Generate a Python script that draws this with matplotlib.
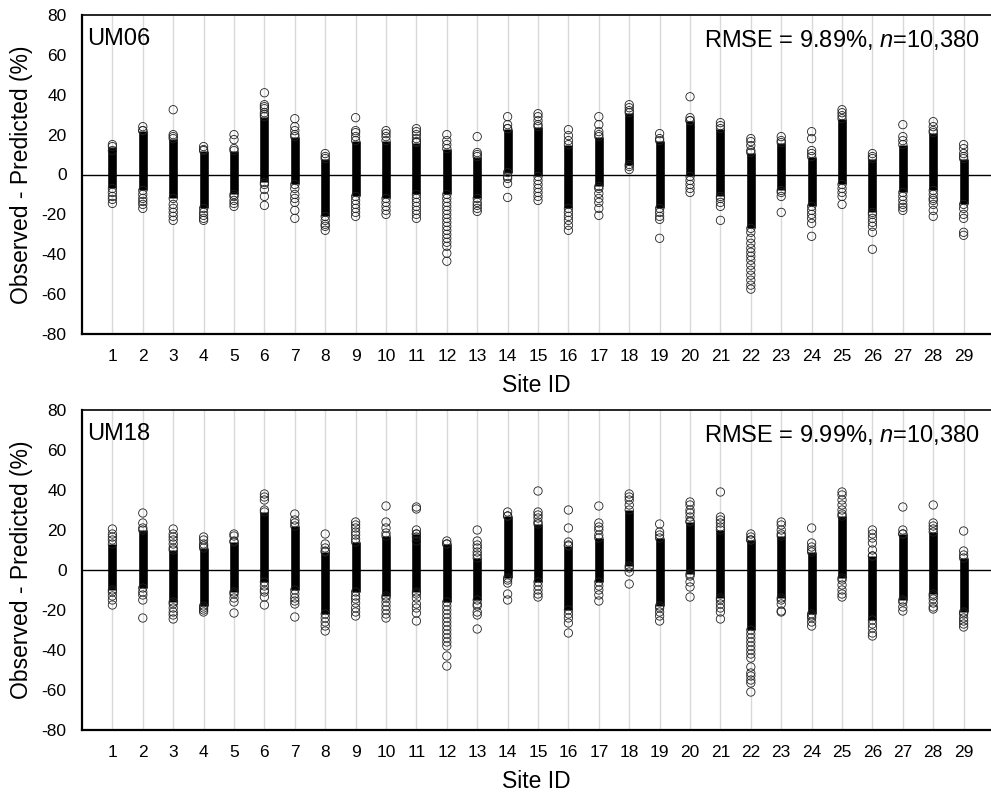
import matplotlib
matplotlib.use('Agg')
import matplotlib.pyplot as plt

plt.rcParams['font.family'] = ['Liberation Sans', 'DejaVu Sans']
plt.rcParams['mathtext.fontset'] = 'custom'
plt.rcParams['mathtext.rm'] = 'Liberation Sans'
plt.rcParams['mathtext.it'] = 'Liberation Sans:italic'
plt.rcParams['axes.unicode_minus'] = False

sites = list(range(1, 30))

# UM06: dense core of each site (solid part) and the separately visible circles
um06_core_lo = [-7, -8, -12, -17, -10, -4, -5, -21, -11, -12, -10, -10, -12, 1, -1,
                -17, -6, 5, -17, -1, -11, -27, -8, -16, -5, -19, -9, -8, -15]
um06_core_hi = [14, 22, 18, 12, 12, 29, 19, 8, 17, 17, 16, 13, 9, 23, 24,
                15, 19, 31, 17, 27, 23, 11, 16, 9, 28, 8, 15, 21, 8]
um06_points = [
    [15, 12, -9, -11, -12.5, -14.5],
    [24, 22, -10, -12, -13.5, -15, -17],
    [32.5, 20, 19, -15, -17, -19, -21, -23],
    [14, 12.5, -19, -20.5, -22, -23],
    [20, 17.5, 13, -11, -13, -14.5, -16],
    [41, 35, 34, 33, 31, 30, -5, -7.5, -11, -15.5],
    [28, 24, 22, 20, -7, -10, -12, -14, -18, -22],
    [10.5, 9, -23, -25, -26, -28],
    [28.5, 22, 21, 19, -13, -15, -17, -19, -21],
    [22, 20.5, 19, -14, -16, -18, -20],
    [23, 21.5, 20, 18, 16.5, -12, -14, -16, -18, -20, -22],
    [20, 17, 15, -12, -14, -16, -18, -20, -22, -24, -26, -28, -30, -32, -34, -36, -39.5, -43.5],
    [19, 11, 10, -14, -15.5, -17, -18.5],
    [29, 25, 23, -1, -2, -4.5, -11.5],
    [30.5, 29, 27, 25, -3, -5, -7, -9, -11, -13],
    [22.5, 19.5, 17, -19, -21, -23, -25.5, -28],
    [29, 25, 21.5, 20, -7, -9.5, -12, -14, -17, -20.5],
    [35, 33.5, 32, 4, 2.5],
    [20.5, 18, -19, -21, -22.5, -32],
    [39, 28.5, 27, -3, -5, -7, -9],
    [26, 24.5, -12, -14, -16, -23],
    [18, 16.5, 14.5, 12, -29, -32, -34.5, -37, -39, -41, -43, -45.5, -48, -50.5, -53, -55.5, -57.5],
    [19, 17, -9, -11, -19],
    [21.5, 18, 12, 10.5, -18, -20, -22, -24.5, -31],
    [32.5, 31, 29.5, -7, -9, -11, -15],
    [10.5, 9, -20, -22, -24, -26, -29, -37.5],
    [25, 19, 17, -11, -13, -15, -16.5, -18],
    [26.5, 24, 22, -10, -12, -13, -15, -18, -21],
    [15, 13, 10.5, 9, -17, -20, -22, -29, -30.5],
]

# UM18
um18_core_lo = [-10, -9, -16, -18, -11, -6, -10, -22, -11, -13, -11, -16, -15, -4, -6,
                -20, -6, 2, -18, -2, -14, -30, -14, -22, -4, -25, -15, -12, -21]
um18_core_hi = [13, 20, 10, 11, 14, 29, 22, 9, 14, 17, 18, 13, 6, 27, 23,
                12, 16, 30, 16, 24, 20, 15, 17, 9, 27, 7, 18, 19, 6]
um18_points = [
    [20.5, 18, 16.5, 15, -11, -13, -15, -17.5],
    [28.5, 23.5, 21, -11, -12.5, -15, -24],
    [20.5, 18, 16.5, 15, 13, 11, -17, -19, -21, -22.5, -24.5],
    [16.5, 15, 13, 12, -19, -20, -21],
    [18, 17, 14.5, -12, -14, -16, -21.5],
    [38, 36.5, 35, 30, -8, -10, -11, -13.5, -17.5],
    [28, 25, 23.5, -12, -14, -15.5, -17, -23.5],
    [18, 13, 11, 9.5, -24, -26, -28, -30.5],
    [24, 22.5, 21, 19, 17.5, 15.5, -13, -14.5, -16.5, -19, -21, -23],
    [32, 24, 21, 18.5, -14, -16, -18, -20, -22, -24],
    [31.5, 30.5, 20, 18, 16.5, 14.5, -12, -14, -17, -19, -21.5, -25.5],
    [14.5, 13, -18, -20, -22, -24, -26, -28, -30, -32, -34, -36, -38, -43, -48],
    [20, 14.5, 12.5, 11, 9, 7.5, -17, -18, -21, -22.5, -29.5],
    [29, 27, -5, -6.5, -12, -15],
    [39.5, 29, 27.5, 26, 24, -8, -10, -12, -13.5],
    [30, 21, 14, 12.5, -22, -24, -26.5, -31.5],
    [32, 23.5, 21.5, 20, 17.5, -8, -10, -12.5, -15.5],
    [38, 36.5, 35, 32.5, 1, -1, -7],
    [23, 19, 17.5, -19, -21, -23, -25.5],
    [34, 32.5, 30, 28.5, 26.5, 24.5, -3, -6, -8.5, -13.5],
    [39, 26.5, 25, 23.5, 21.5, -15, -17, -19, -21, -24.5],
    [18, 16.5, 15, -32, -34, -36, -38, -40, -42, -44, -48.5, -51.5, -53, -55, -56.5, -61],
    [24, 22.5, 20, 18, -15, -17, -20.5, -21],
    [21, 13.5, 11.5, 10, -23, -24, -26, -28],
    [39, 37.5, 35, 32.5, 30, 28, -5, -7.5, -10, -12, -13.5],
    [20, 18, 16, 13.5, 10, 7, -27, -29, -31.5, -33],
    [31.5, 20, 18, -16, -18.5, -20.5],
    [32.5, 23.5, 22, 20.5, -13, -14.5, -16.5, -18.5, -19.5],
    [19.5, 9.5, 7.5, -22, -24, -25.5, -27, -28.5],
]

panels = [
    ('UM06', 'RMSE = 9.89%, $\\mathit{n}$=10,380', um06_core_lo, um06_core_hi, um06_points),
    ('UM18', 'RMSE = 9.99%, $\\mathit{n}$=10,380', um18_core_lo, um18_core_hi, um18_points),
]

W, H = 991, 795
fig = plt.figure(figsize=(W / 100, H / 100), dpi=100)

# axes boxes in pixels: left, top, bottom
boxes = [(82, 15, 334), (82, 410, 730)]

for (name, stats, lo, hi, pts), (left, top, bottom) in zip(panels, boxes):
    ax = fig.add_axes([left / W, 1 - bottom / H, (W - left) / W, (bottom - top) / H])
    ax.set_xlim(0, 29.9)
    ax.set_ylim(-80, 80)

    for s in sites:
        ax.axvline(s, color='#d9d9d9', lw=1.0, zorder=0)
    ax.axhline(0, color='black', lw=1.0, zorder=1)

    # dense part of each column
    ax.vlines(sites, lo, hi, colors='black', lw=6.2, zorder=2)

    xs, ys = [], []
    for s, l, h, p in zip(sites, lo, hi, pts):
        for v in [l, h] + p:
            xs.append(s)
            ys.append(v)
    ax.scatter(xs, ys, s=36, facecolors='none', edgecolors='#222222',
               linewidths=0.6, zorder=3)

    ax.set_xticks(sites)
    ax.set_yticks(range(-80, 81, 20))
    ax.tick_params(axis='both', length=0, labelsize=12.5, pad=11)
    ax.spines['right'].set_visible(False)
    ax.spines['left'].set_linewidth(1.6)
    ax.spines['bottom'].set_linewidth(1.6)
    ax.spines['top'].set_linewidth(1.2)

    ax.set_xlabel('Site ID', fontsize=16.5, labelpad=7)
    ax.set_ylabel('Observed - Predicted (%)', fontsize=16.5, labelpad=6)

    ax.text(0.006, 0.96, name, transform=ax.transAxes, ha='left', va='top',
            fontsize=17)
    ax.text(0.987, 0.96, stats, transform=ax.transAxes, ha='right', va='top',
            fontsize=17)

fig.savefig('out.png', dpi=100)
